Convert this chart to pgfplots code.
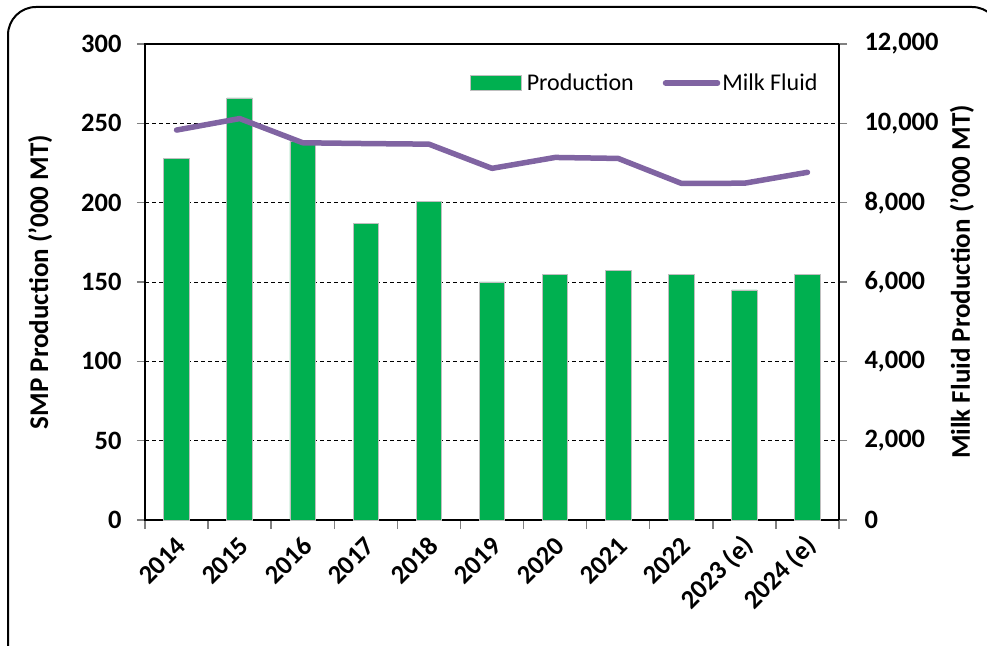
\documentclass[border=0pt]{standalone}
\usepackage{fontspec}
\setmainfont{Carlito}
\usepackage{pgfplots}
\pgfplotsset{compat=1.18}
\definecolor{bargreen}{HTML}{00B050}
\definecolor{linepurple}{HTML}{8064A2}
\begin{document}
\begin{tikzpicture}[x=1pt,y=1pt]
\path[use as bounding box, clip] (0,0) rectangle (987,645);
\draw[line width=2pt, rounded corners=28pt] (8,-40) rectangle (1000,638);
\begin{axis}[
  at={(145pt,125pt)}, anchor=south west, scale only axis,
  width=694pt, height=476pt,
  xmin=-0.5, xmax=10.5, ymin=0, ymax=300,
  axis line style={line width=1.6pt},
  xtick={0,...,10},
  xticklabels={2014,2015,2016,2017,2018,2019,2020,2021,2022,2023 (e),2024 (e)},
  minor xtick={-0.5,0.5,...,10.5},
  major x tick style={draw=none},
  minor x tick style={line width=1.4pt},
  minor tick length=9pt,
  major tick length=8pt,
  tick align=outside,
  xtick pos=bottom, ytick pos=left,
  ytick={0,50,...,300},
  y tick style={line width=1.4pt},
  ymajorgrids,
  grid style={black, line width=0.8pt, dash pattern=on 4pt off 3pt},
  /pgf/number format/assume math mode=true,
  ticklabel style={font=\bfseries\fontsize{26.5}{30}\selectfont},
  xticklabel style={xshift=7pt, yshift=-11pt, rotate=45, anchor=east},
  yticklabel style={xshift=-12pt},
  ylabel={SMP Production ('000 MT)},
  ylabel style={at={(axis description cs:-0.151,0.5)}, anchor=center, font=\bfseries\fontsize{27}{30}\selectfont},
]
\addplot[ybar, bar width=25.5pt, fill=bargreen, draw=gray!50, line width=0.8pt]
  coordinates {(0,228) (1,266) (2,238.5) (3,187) (4,201) (5,150) (6,155) (7,157) (8,155) (9,145) (10,155)};
\end{axis}
\begin{axis}[
  at={(145pt,125pt)}, anchor=south west, scale only axis,
  width=694pt, height=476pt,
  xmin=-0.5, xmax=10.5, ymin=0, ymax=12000,
  axis x line=none, axis y line*=right,
  axis line style={line width=1.6pt},
  ytick={0,2000,...,12000},
  scaled y ticks=false,
  major tick length=8pt,
  tick align=outside,
  y tick style={line width=1.4pt},
  /pgf/number format/assume math mode=true,
  /pgf/number format/1000 sep={,},
  ticklabel style={font=\bfseries\fontsize{26.5}{30}\selectfont},
  yticklabel style={xshift=14pt},
  ylabel={Milk Fluid Production ('000 MT)},
  ylabel style={at={(axis description cs:1.1772,0.5)}, anchor=center, font=\bfseries\fontsize{27}{30}\selectfont},
  legend style={at={(axis description cs:0.72,0.918)}, anchor=center, draw=none, fill=none,
    legend columns=2, font=\fontsize{24}{28}\selectfont,
    /tikz/every even column/.append style={column sep=27pt}},
  legend cell align=left,
]
\addlegendimage{legend image code/.code={\draw[fill=bargreen, draw=gray!50, line width=0.8pt] (0pt,-7.5pt) rectangle (51pt,7.5pt);}}
\addlegendentry{\hspace{3pt}Production}
\addplot[linepurple, line width=5.5pt, line cap=round, line join=round,
  legend image code/.code={\draw[linepurple, line width=5.5pt, line cap=round] (0pt,0pt) -- (52pt,0pt);}]
  coordinates {(0,9830) (1,10120) (2,9510) (3,9490) (4,9475) (5,8865) (6,9140) (7,9115) (8,8487) (9,8490) (10,8765)};
\addlegendentry{Milk Fluid}
\end{axis}
\end{tikzpicture}
\end{document}
